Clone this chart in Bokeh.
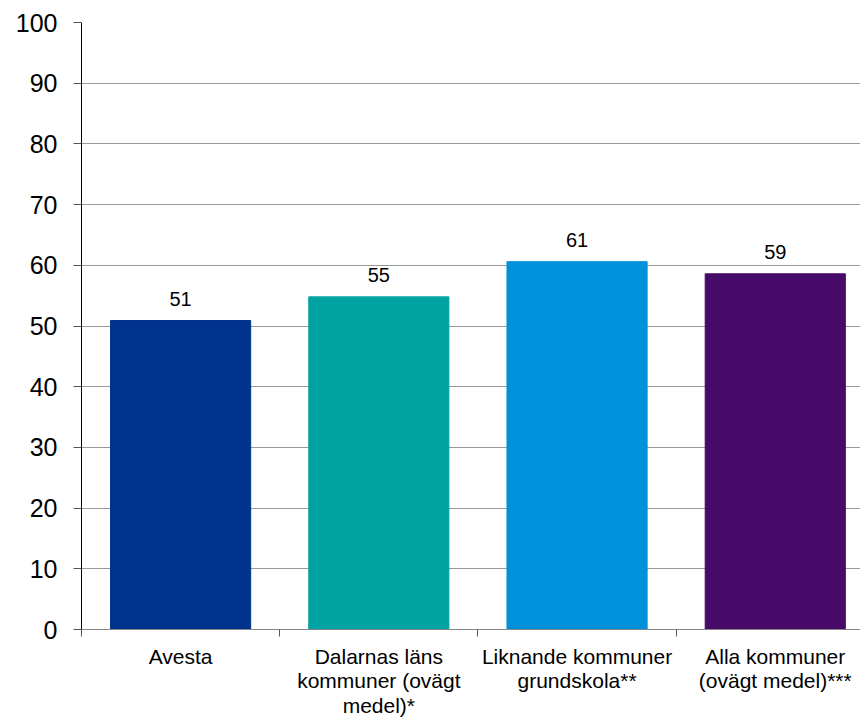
from bokeh.plotting import figure
from bokeh.models import Range1d, FixedTicker, ColumnDataSource
from bokeh.core.properties import value
from bokeh.embed import file_html
from bokeh.resources import INLINE

categories = ["Avesta", "Dalarnas läns\nkommuner (ovägt\nmedel)*", "Liknande kommuner\ngrundskola**", "Alla kommuner\n(ovägt medel)***"]
values = [50.9, 54.8, 60.6, 58.6]
colors = ["#00338D", "#00A3A1", "#0091DA", "#470A68"]
y_ticks = [0, 10, 20, 30, 40, 50, 60, 70, 80, 90, 100]

xs = [i + 0.5 for i in range(len(categories))]
src = ColumnDataSource(dict(x=xs, top=values, color=colors,
                            label=[f"{v:.0f}" for v in values]))

p = figure(width=860, height=720, output_backend="svg", toolbar_location=None,
           x_range=Range1d(0, 3.93), y_range=Range1d(0, 100),
           min_border_top=22, min_border_right=0, min_border_left=81)
p.outline_line_color = None
p.background_fill_color = "white"

p.vbar(x="x", top="top", width=0.707, color="color", source=src)
p.text(x="x", y="top", text="label", source=src, y_offset=-15,
       text_align="center", text_baseline="bottom",
       text_font=value("Liberation Sans"), text_font_size="20px", text_color="black")

# y axis
ya = p.yaxis[0]
ya.ticker = FixedTicker(ticks=y_ticks)
ya.axis_line_color = "black"
ya.major_tick_in = 0
ya.major_tick_out = 8
ya.major_tick_line_color = "#555555"
ya.minor_tick_line_color = None
ya.major_label_text_font = "Liberation Sans"
ya.major_label_text_font_size = "25px"
ya.major_label_text_color = "black"
ya.major_label_standoff = 16

# x axis
xa = p.xaxis[0]
xa.ticker = FixedTicker(ticks=xs, minor_ticks=[0, 1, 2, 3, 4])
xa.major_label_overrides = {x: c for x, c in zip(xs, categories)}
xa.major_tick_in = 0
xa.major_tick_out = 0
xa.minor_tick_in = 0
xa.minor_tick_out = 7
xa.minor_tick_line_color = "#555555"
xa.axis_line_color = "#868686"
xa.major_label_text_font = "Liberation Sans"
xa.major_label_text_font_size = "21px"
xa.major_label_text_line_height = 1.08
xa.major_label_text_color = "black"
xa.major_label_standoff = 8

p.xgrid.grid_line_color = None
p.ygrid.grid_line_color = "#999999"
p.ygrid.grid_line_width = 1

open("out.html", "w").write(file_html(p, INLINE))
